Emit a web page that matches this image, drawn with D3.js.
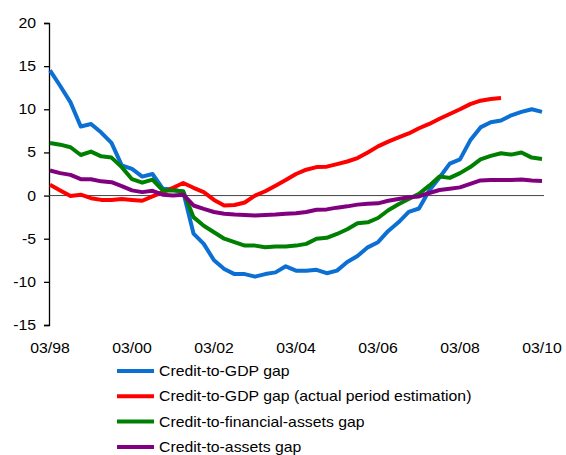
<!DOCTYPE html>
<html>
<head>
<meta charset="utf-8">
<script src="https://d3js.org/d3.v7.min.js"></script>
<style>
  body { margin: 0; background: #fff; }
  text { font-family: "Liberation Sans", Arial, sans-serif; fill: #000; }
</style>
</head>
<body>
<svg id="chart" width="566" height="455"></svg>
<script>
// quarterly observations, 03/98 .. 03/10
const xLabels = ["03/98", "03/00", "03/02", "03/04", "03/06", "03/08", "03/10"];
const yTicks = [-15, -10, -5, 0, 5, 10, 15, 20];

const creditGdp = [14.5, 12.7, 10.8, 8.0, 8.3, 7.3, 6.1, 3.5, 3.1, 2.2, 2.5, 0.8, 0.7, 0.4,
  -4.4, -5.6, -7.5, -8.5, -9.1, -9.1, -9.4, -9.1, -8.9, -8.2, -8.7, -8.7, -8.6, -9.0, -8.7,
  -7.7, -7.0, -6.0, -5.4, -4.1, -3.1, -1.9, -1.5, 0.6, 2.1, 3.7, 4.2, 6.4, 7.9, 8.5, 8.7,
  9.3, 9.7, 10.0, 9.7];
const creditGdpActual = [1.25, 0.6, -0.05, 0.1, -0.3, -0.5, -0.5, -0.4, -0.5, -0.6, -0.1, 0.4,
  0.9, 1.45, 0.9, 0.4, -0.5, -1.15, -1.1, -0.8, 0.0, 0.5, 1.15, 1.8, 2.5, 3.0, 3.3, 3.35,
  3.65, 3.95, 4.35, 5.0, 5.7, 6.25, 6.75, 7.2, 7.8, 8.3, 8.9, 9.45, 10.0, 10.6, 11.0, 11.2, 11.3];
const creditFinAssets = [6.1, 5.9, 5.6, 4.7, 5.1, 4.55, 4.4, 3.3, 1.9, 1.5, 1.85, 0.6, 0.6, 0.5,
  -2.5, -3.5, -4.25, -5.0, -5.4, -5.8, -5.8, -6.0, -5.9, -5.9, -5.8, -5.6, -5.0, -4.9, -4.45,
  -3.9, -3.2, -3.1, -2.6, -1.7, -1.0, -0.4, 0.2, 1.15, 2.2, 2.05, 2.6, 3.3, 4.2, 4.6, 4.9,
  4.75, 5.0, 4.4, 4.25];
const creditAssets = [2.9, 2.6, 2.4, 1.9, 1.9, 1.65, 1.55, 1.1, 0.6, 0.4, 0.55, 0.1, 0.0, 0.1,
  -1.15, -1.55, -1.9, -2.1, -2.2, -2.25, -2.3, -2.25, -2.2, -2.1, -2.05, -1.9, -1.65, -1.6,
  -1.4, -1.25, -1.05, -0.95, -0.9, -0.6, -0.4, -0.2, -0.1, 0.3, 0.65, 0.8, 0.95, 1.35, 1.75,
  1.8, 1.8, 1.8, 1.85, 1.75, 1.7];

const seriesNames = ["Credit-to-GDP gap", "Credit-to-GDP gap (actual period estimation)",
  "Credit-to-financial-assets gap", "Credit-to-assets gap"];
const seriesColors = ["#0b6fd3", "#ff0000", "#008000", "#800080"];
const seriesData = [creditGdp, creditGdpActual, creditFinAssets, creditAssets];

const stretch = 1.13; // text in the picture is a little wider than normal

let svg = d3.select("#chart");

let x = d3.scaleLinear().domain([0, 48]).range([50, 542]);
let y = d3.scaleLinear().domain([-15, 20]).range([325, 23]);

// y axis
let yAxis = svg.append("g")
  .attr("transform", "translate(49,0)")
  .call(d3.axisLeft(y).tickValues(yTicks).tickSize(5).tickPadding(8).tickFormat(d => String(d)));
yAxis.select(".domain").attr("stroke", "#000").attr("stroke-width", 1.3);
yAxis.selectAll(".tick line").attr("stroke", "#000").attr("stroke-width", 1.3);
yAxis.selectAll(".tick text")
  .attr("font-size", 14)
  .attr("font-family", "Liberation Sans, Arial, sans-serif")
  .attr("x", null)
  .attr("transform", `translate(-13,0) scale(${stretch},1)`);

// zero line
svg.append("line")
  .attr("x1", 49).attr("x2", 544)
  .attr("y1", y(0)).attr("y2", y(0))
  .attr("stroke", "#444").attr("stroke-width", 1);

// x labels every 8 quarters
svg.append("g").selectAll("text")
  .data(xLabels)
  .join("text")
  .attr("transform", (d, i) => `translate(${x(i * 8)},353) scale(${stretch},1)`)
  .attr("text-anchor", "middle")
  .attr("font-size", 14)
  .text(d => d);

// lines
let line = d3.line()
  .x((d, i) => x(i))
  .y(d => y(d));

svg.append("g").selectAll("path")
  .data(seriesData)
  .join("path")
  .attr("d", d => line(d))
  .attr("fill", "none")
  .attr("stroke", (d, i) => seriesColors[i])
  .attr("stroke-width", 4)
  .attr("stroke-linejoin", "round");

// legend
let legend = svg.append("g").selectAll("g")
  .data(seriesNames)
  .join("g")
  .attr("transform", (d, i) => `translate(117,${371 + i * 25.3})`);
legend.append("line")
  .attr("x1", 0).attr("x2", 37)
  .attr("stroke", (d, i) => seriesColors[i])
  .attr("stroke-width", 4);
legend.append("text")
  .attr("transform", `translate(42,0) scale(${stretch},1)`)
  .attr("dy", "0.35em")
  .attr("font-size", 14)
  .text(d => d);
</script>
</body>
</html>
